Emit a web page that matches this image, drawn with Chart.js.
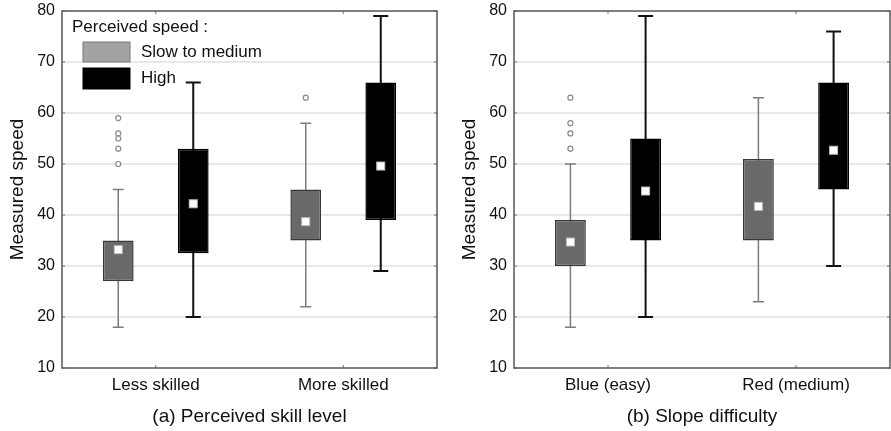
<!DOCTYPE html>
<html>
<head>
<meta charset="utf-8">
<script src="https://cdn.jsdelivr.net/npm/chart.js@4.4.1/dist/chart.umd.min.js"></script>
<style>
  body { margin: 0; background: #fff; }
  .wrap { display: flex; width: 891px; height: 431px; }
</style>
</head>
<body>
<div class="wrap">
  <canvas id="skillChart" width="445" height="431"></canvas>
  <canvas id="slopeChart" width="446" height="431"></canvas>
</div>
<script>
// Data
const groupNames = ['Slow to medium', 'High'];
const skillLabels = ['Less skilled', 'More skilled'];
const slopeLabels = ['Blue (easy)', 'Red (medium)'];
const yTicks = [10, 20, 30, 40, 50, 60, 70, 80];

// (a) perceived skill level
const skillSlowBox = [[27, 35], [35, 45]];
const skillSlowWhisk = [[18, 45], [22, 58]];
const skillSlowMid = [33.2, 38.7];
const skillSlowOut = [[59, 56, 55, 53, 50], [63]];
const skillHighBox = [[32.5, 53], [39, 66]];
const skillHighWhisk = [[20, 66], [29, 79]];
const skillHighMid = [42.2, 49.6];
const skillHighOut = [[], []];

// (b) slope difficulty
const slopeSlowBox = [[30, 39], [35, 51]];
const slopeSlowWhisk = [[18, 50], [23, 63]];
const slopeSlowMid = [34.7, 41.7];
const slopeSlowOut = [[63, 58, 56, 53], []];
const slopeHighBox = [[35, 55], [45, 66]];
const slopeHighWhisk = [[20, 79], [30, 76]];
const slopeHighMid = [44.7, 52.7];
const slopeHighOut = [[], []];

const FONT = "'Liberation Sans', Arial, sans-serif";
const TEXT = '#111';

// whiskers, centre squares, outliers, frame and legend
const boxExtras = {
  id: 'boxExtras',
  beforeDatasetsDraw(chart) {
    const { ctx, scales: { y } } = chart;
    chart.data.datasets.forEach((ds, di) => {
      chart.getDatasetMeta(di).data.forEach((bar, i) => {
        const [lo, hi] = ds.whiskers[i];
        const x = bar.x;
        const cw = ds.capWidth / 2;
        ctx.save();
        ctx.strokeStyle = ds.whiskerColor;
        ctx.lineWidth = ds.whiskerWidth;
        ctx.beginPath();
        ctx.moveTo(x, y.getPixelForValue(lo));
        ctx.lineTo(x, y.getPixelForValue(hi));
        [lo, hi].forEach(v => {
          const py = y.getPixelForValue(v);
          ctx.moveTo(x - cw, py);
          ctx.lineTo(x + cw, py);
        });
        ctx.stroke();
        ctx.restore();
      });
    });
  },
  afterDatasetsDraw(chart) {
    const { ctx, chartArea: a, scales: { x: xs, y } } = chart;
    chart.data.datasets.forEach((ds, di) => {
      chart.getDatasetMeta(di).data.forEach((bar, i) => {
        const x = bar.x;
        ctx.save();
        // centre marker
        const py = y.getPixelForValue(ds.mids[i]);
        ctx.fillStyle = '#fff';
        ctx.strokeStyle = '#bdbdbd';
        ctx.lineWidth = 1;
        ctx.fillRect(x - 4, py - 4, 8, 8);
        ctx.strokeRect(x - 4, py - 4, 8, 8);
        // outliers
        ctx.strokeStyle = '#8a8a8a';
        ctx.lineWidth = 1.2;
        ds.outliers[i].forEach(v => {
          ctx.beginPath();
          ctx.arc(x, y.getPixelForValue(v), 2.5, 0, Math.PI * 2);
          ctx.fill();
          ctx.stroke();
        });
        ctx.restore();
      });
    });
    ctx.save();
    // inward tick marks on all four sides
    ctx.strokeStyle = '#777';
    ctx.lineWidth = 1;
    ctx.beginPath();
    yTicks.forEach(v => {
      const py = y.getPixelForValue(v);
      ctx.moveTo(a.left, py); ctx.lineTo(a.left + 3, py);
      ctx.moveTo(a.right, py); ctx.lineTo(a.right - 3, py);
    });
    chart.data.labels.forEach((l, i) => {
      const px = xs.getPixelForValue(i);
      ctx.moveTo(px, a.bottom); ctx.lineTo(px, a.bottom - 3);
      ctx.moveTo(px, a.top); ctx.lineTo(px, a.top + 3);
    });
    ctx.stroke();
    ctx.strokeStyle = '#555';
    ctx.lineWidth = 1.5;
    ctx.strokeRect(a.left, a.top, a.right - a.left, a.bottom - a.top);
    ctx.restore();
  },
  afterDraw(chart, args, opts) {
    if (!opts.legend) return;
    const { ctx, chartArea: a } = chart;
    ctx.save();
    ctx.font = '17px ' + FONT;
    ctx.fillStyle = TEXT;
    ctx.textBaseline = 'middle';
    ctx.fillText('Perceived speed :', a.left + 10, a.top + 16);
    const rows = [
      { fill: '#a3a3a3', stroke: '#7a7a7a', y: a.top + 31, h: 20 },
      { fill: '#000', stroke: '#000', y: a.top + 57, h: 21 }
    ];
    rows.forEach((r, i) => {
      ctx.fillStyle = r.fill;
      ctx.strokeStyle = r.stroke;
      ctx.lineWidth = 1;
      ctx.fillRect(a.left + 21, r.y, 47, r.h);
      ctx.strokeRect(a.left + 21, r.y, 47, r.h);
      ctx.fillStyle = TEXT;
      ctx.fillText(groupNames[i], a.left + 79, r.y + r.h / 2);
    });
    ctx.restore();
  }
};

function makeChart(id, labels, caption, slow, high, leftPad, rightPad, showLegend) {
  const ctx = document.getElementById(id).getContext('2d');
  return new Chart(ctx, {
    type: 'bar',
    data: {
      labels: labels,
      datasets: [{
        label: groupNames[0],
        data: slow.box,
        whiskers: slow.whisk,
        mids: slow.mid,
        outliers: slow.out,
        whiskerColor: '#7c7c7c',
        whiskerWidth: 1.5,
        capWidth: 11,
        backgroundColor: '#696969',
        borderColor: '#383838',
        borderWidth: 1.5,
        borderSkipped: false,
        categoryPercentage: 0.8,
        barPercentage: 0.41
      }, {
        label: groupNames[1],
        data: high.box,
        whiskers: high.whisk,
        mids: high.mid,
        outliers: high.out,
        whiskerColor: '#111',
        whiskerWidth: 2,
        capWidth: 15,
        backgroundColor: '#000',
        borderColor: '#000',
        borderWidth: 1.5,
        borderSkipped: false,
        categoryPercentage: 0.8,
        barPercentage: 0.41
      }]
    },
    options: {
      responsive: false,
      animation: false,
      layout: { padding: { left: leftPad, right: rightPad, top: 11, bottom: 0 } },
      plugins: {
        legend: { display: false },
        tooltip: { enabled: false },
        boxExtras: { legend: showLegend }
      },
      scales: {
        x: {
          grid: { display: false, drawTicks: false },
          border: { display: false },
          ticks: { color: TEXT, font: { family: FONT, size: 17 }, padding: 7 },
          title: { display: true, text: caption, color: TEXT, font: { family: FONT, size: 19 }, padding: { top: 0, bottom: 3 } },
          afterFit: s => { s.height = 63; }
        },
        y: {
          min: 10,
          max: 80,
          afterBuildTicks: s => { s.ticks = yTicks.map(v => ({ value: v })); },
          grid: {
            color: c => (c.tick && c.tick.value > 10 && c.tick.value < 80) ? '#e8e8e8' : 'rgba(0,0,0,0)',
            lineWidth: 2,
            tickLength: 7,
            tickColor: 'rgba(0,0,0,0)'
          },
          border: { display: false },
          ticks: { color: TEXT, font: { family: FONT, size: 16 }, padding: 0 },
          title: { display: true, text: 'Measured speed', color: TEXT, font: { family: FONT, size: 19 }, padding: { top: 6, bottom: 0 } },
          afterFit: s => { s.width = 62; }
        }
      }
    },
    plugins: [boxExtras]
  });
}

makeChart('skillChart', skillLabels, '(a) Perceived skill level',
  { box: skillSlowBox, whisk: skillSlowWhisk, mid: skillSlowMid, out: skillSlowOut },
  { box: skillHighBox, whisk: skillHighWhisk, mid: skillHighMid, out: skillHighOut },
  0, 8, true);

makeChart('slopeChart', slopeLabels, '(b) Slope difficulty',
  { box: slopeSlowBox, whisk: slopeSlowWhisk, mid: slopeSlowMid, out: slopeSlowOut },
  { box: slopeHighBox, whisk: slopeHighWhisk, mid: slopeHighMid, out: slopeHighOut },
  7, 1, false);
</script>
</body>
</html>
